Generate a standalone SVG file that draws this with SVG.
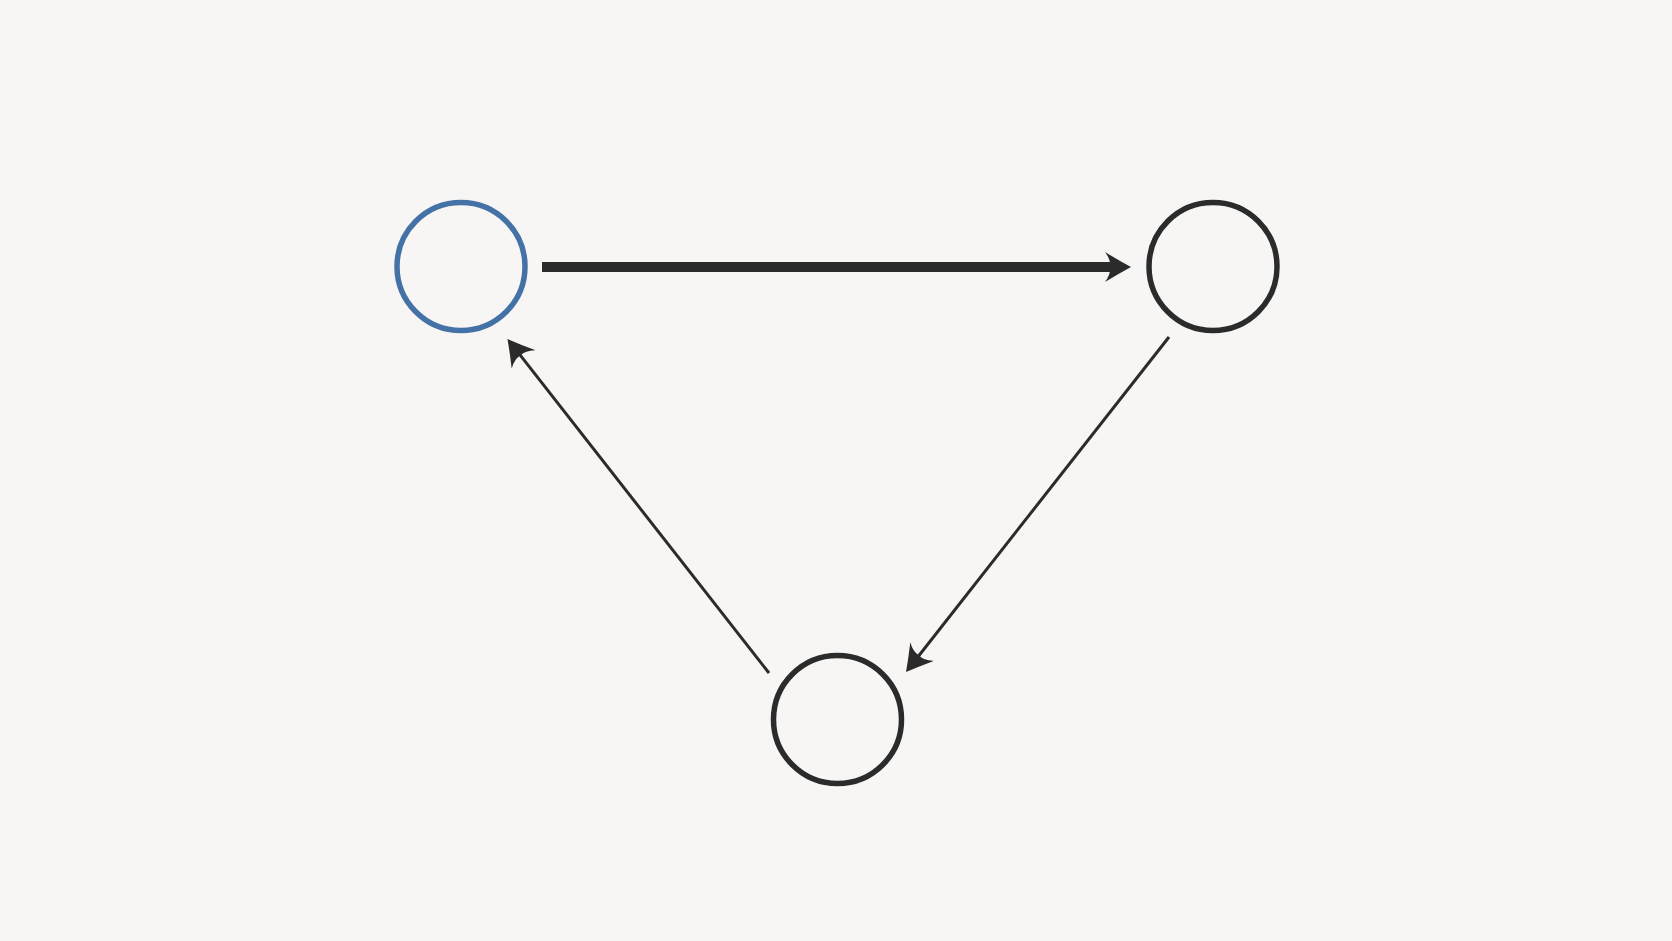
<svg xmlns="http://www.w3.org/2000/svg" width="1672" height="941" viewBox="0 0 1672 941">
  <style>
    .node { fill: none; stroke: #2b2b2b; stroke-width: 5.5; }
    .node.start { stroke: #4472a6; }
    .edge { stroke: #2b2b2b; fill: none; stroke-linecap: butt; }
    .thick { stroke-width: 10; }
    .thin { stroke-width: 3; }
  </style>
  <defs>
    <marker id="arrow" markerUnits="userSpaceOnUse" viewBox="0 0 26 30" markerWidth="26" markerHeight="30" refX="6" refY="15" orient="auto">
      <path d="M0,0 Q13,8 26,15 Q13,22 0,30 Q6,22 5,15 Q6,8 0,0 Z" fill="#2b2b2b"/>
    </marker>
  </defs>
  <rect width="1672" height="941" fill="#f7f6f4"/>
  <g id="connectors">
    <line class="edge thick" x1="542" y1="267" x2="1111" y2="267" marker-end="url(#arrow)"/>
    <line class="edge thin" x1="1169" y1="337" x2="918.4" y2="656.3" marker-end="url(#arrow)"/>
    <line class="edge thin" x1="769" y1="673" x2="519.8" y2="354.7" marker-end="url(#arrow)"/>
  </g>
  <g id="node-a">
    <circle class="node start" cx="461" cy="266.5" r="64"/>
  </g>
  <g id="node-b">
    <circle class="node" cx="1213" cy="266.5" r="64"/>
  </g>
  <g id="node-c">
    <circle class="node" cx="837.5" cy="719.5" r="64"/>
  </g>
</svg>
